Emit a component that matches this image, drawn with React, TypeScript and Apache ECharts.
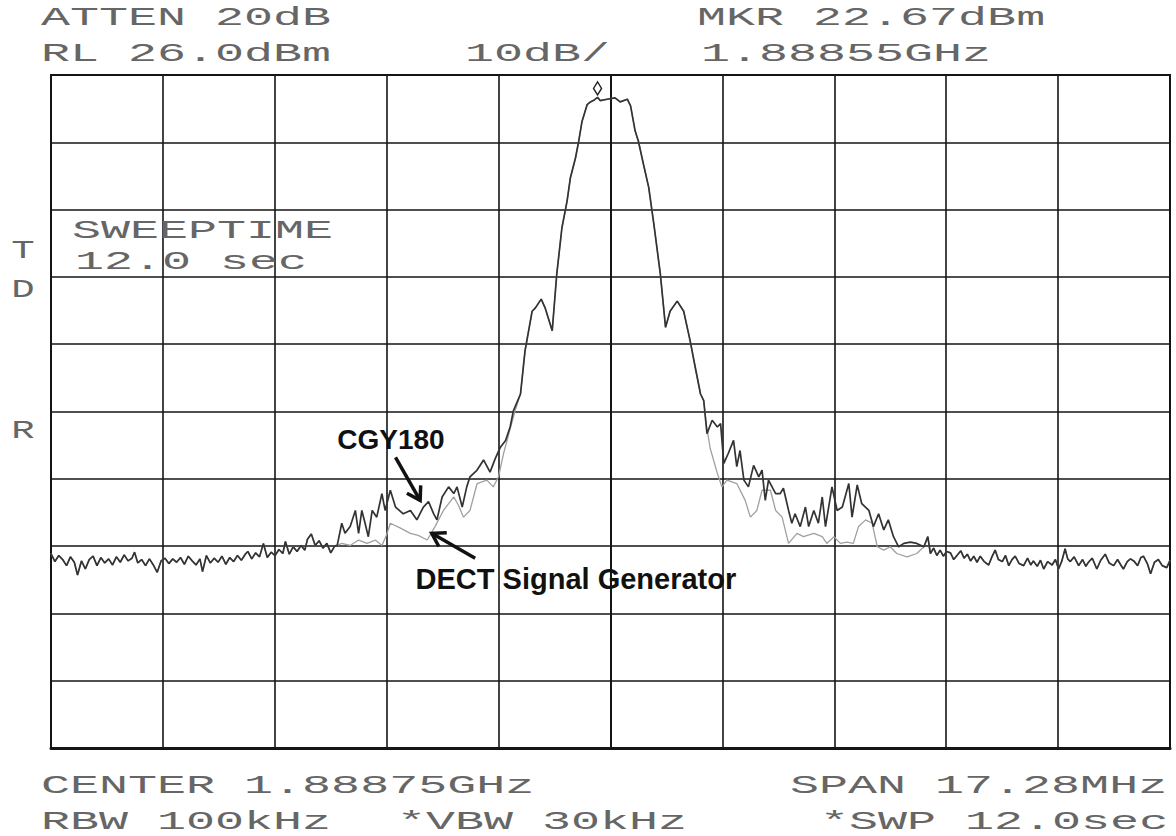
import React, { useEffect, useRef } from "react";
import * as echarts from "echarts";

// ---- Instrument settings (from the screen annotations) ----
const REF_LEVEL_DBM = 26; // RL 26.0 dBm, top of the screen
const X_MIN = -8.64; // MHz offset from center (span 17.28 MHz)
const X_MAX = 8.64;
const X_DIV = 1.728; // MHz per division
const Y_MIN_REL = -100; // 10 divisions x 10 dB below RL
const Y_DIV = 10;

// ---- Trace readings: [frequency offset from 1.88875 GHz in MHz, level in dBm] ----
// Shared noise floor on the left (both traces overlap)
const leftFloor: [number, number][] = [
  [-8.64, -45.1], [-8.58, -46.3], [-8.52, -45.4], [-8.46, -46.0], [-8.4, -46.9],
  [-8.34, -45.6], [-8.28, -46.4], [-8.23, -48.3], [-8.17, -46.2], [-8.11, -47.4],
  [-8.05, -46.0], [-7.99, -45.5], [-7.93, -46.9], [-7.87, -45.7], [-7.81, -46.5],
  [-7.75, -45.9], [-7.69, -46.8], [-7.63, -45.6], [-7.57, -46.4], [-7.51, -45.3],
  [-7.45, -46.2], [-7.39, -45.8], [-7.35, -44.9], [-7.3, -46.5], [-7.24, -46.0],
  [-7.18, -46.9], [-7.12, -45.9], [-7.06, -46.8], [-7.0, -47.9], [-6.94, -46.2],
  [-6.88, -45.8], [-6.82, -46.6], [-6.76, -45.9], [-6.7, -46.4], [-6.64, -45.7],
  [-6.58, -46.7], [-6.52, -45.5], [-6.46, -46.2], [-6.4, -46.8], [-6.34, -45.9],
  [-6.3, -47.8], [-6.24, -45.4], [-6.18, -46.5], [-6.12, -45.8], [-6.06, -46.4],
  [-6.0, -45.5], [-5.94, -46.7], [-5.88, -45.7], [-5.82, -46.3], [-5.76, -45.4],
  [-5.7, -46.1], [-5.64, -45.2], [-5.6, -44.8], [-5.54, -45.9], [-5.48, -45.0],
  [-5.42, -45.6], [-5.36, -43.6], [-5.3, -45.7], [-5.24, -44.9], [-5.18, -45.4],
  [-5.12, -44.5], [-5.06, -45.1], [-5.02, -43.3], [-4.96, -45.2], [-4.9, -44.1],
  [-4.84, -44.8], [-4.78, -43.9], [-4.72, -44.6], [-4.68, -43.0], [-4.62, -42.2],
  [-4.56, -43.9], [-4.5, -43.2], [-4.44, -44.3], [-4.38, -43.6], [-4.32, -45.0],
  [-4.26, -44.0], [-4.22, -43.9],
];

// CGY180 (dark trace) lower-left skirt
const cgyLeftSkirt: [number, number][] = [
  [-4.15, -40.6], [-4.1, -42.1], [-4.02, -41.1], [-3.94, -38.7], [-3.89, -42.1],
  [-3.84, -38.7], [-3.79, -40.6], [-3.74, -42.6], [-3.68, -38.7], [-3.61, -39.7],
  [-3.53, -36.2], [-3.48, -38.7], [-3.4, -35.7], [-3.32, -38.2], [-3.2, -39.2],
  [-3.09, -38.7], [-2.99, -40.1], [-2.89, -38.2], [-2.81, -37.4], [-2.73, -39.2],
  [-2.68, -40.1], [-2.6, -36.7], [-2.5, -35.2], [-2.42, -36.2], [-2.37, -35.2],
  [-2.29, -38.2], [-2.22, -35.2], [-2.17, -33.7], [-2.06, -32.7], [-1.96, -31.2],
  [-1.86, -33.0], [-1.78, -31.0], [-1.7, -29.3], [-1.62, -28.3], [-1.55, -26.3],
  [-1.5, -23.9],
];

// DECT signal generator (light trace) lower-left skirt
const dectLeftSkirt: [number, number][] = [
  [-4.15, -43.6], [-4.02, -43.9], [-3.89, -43.1], [-3.76, -43.6], [-3.63, -43.1],
  [-3.53, -43.9], [-3.46, -42.4], [-3.4, -40.6], [-3.25, -41.3], [-3.09, -42.1],
  [-2.97, -42.4], [-2.83, -43.1], [-2.71, -41.1], [-2.58, -38.7], [-2.42, -36.7],
  [-2.35, -37.9], [-2.27, -39.7], [-2.17, -38.7], [-2.06, -34.7], [-1.91, -34.2],
  [-1.81, -35.2], [-1.73, -33.7], [-1.65, -30.2], [-1.57, -27.3], [-1.47, -23.8],
];

// Main lobe (both traces overlap)
const mainLobe: [number, number][] = [
  [-1.39, -21.4], [-1.32, -15.0], [-1.21, -9.1], [-1.16, -8.6], [-1.07, -7.3],
  [-1.01, -8.6], [-0.9, -12.0], [-0.83, -3.6], [-0.75, 3.3], [-0.67, 7.3],
  [-0.62, 10.7], [-0.54, 13.7], [-0.49, 16.2], [-0.44, 19.1], [-0.36, 21.6],
  [-0.31, 22.0], [-0.25, 22.3], [-0.2, 22.67], [-0.16, 22.2], [-0.05, 22.4],
  [0.07, 22.6], [0.15, 22.0], [0.26, 22.4], [0.31, 21.4], [0.38, 17.7],
  [0.43, 16.2], [0.51, 12.7], [0.59, 9.3], [0.67, 3.8], [0.77, -3.6],
  [0.85, -11.5], [0.92, -9.1], [1.03, -7.6], [1.13, -9.1], [1.23, -13.5],
  [1.31, -17.5], [1.39, -21.4], [1.44, -22.4],
];

// CGY180 lower-right skirt
const cgyRightSkirt: [number, number][] = [
  [1.49, -27.3], [1.57, -25.3], [1.65, -26.3], [1.7, -25.8], [1.75, -31.7],
  [1.82, -30.2], [1.9, -28.3], [1.95, -32.2], [2.0, -29.8], [2.06, -34.2],
  [2.13, -35.2], [2.21, -32.0], [2.29, -33.7], [2.34, -32.7], [2.39, -37.2],
  [2.44, -34.2], [2.55, -36.2], [2.62, -36.2], [2.67, -35.4], [2.75, -38.7],
  [2.8, -40.6], [2.85, -39.2], [2.93, -41.1], [3.01, -38.2], [3.06, -41.1],
  [3.14, -38.7], [3.21, -40.6], [3.27, -36.7], [3.32, -41.1], [3.42, -35.2],
  [3.5, -38.7], [3.58, -38.2], [3.68, -34.7], [3.73, -39.7], [3.81, -34.9],
  [3.88, -37.7], [3.99, -38.7], [4.06, -41.1], [4.14, -39.2], [4.22, -41.6],
  [4.29, -40.1], [4.37, -42.6], [4.45, -44.1], [4.53, -43.6], [4.63, -43.4],
  [4.73, -43.6],
];

// DECT signal generator lower-right skirt
const dectRightSkirt: [number, number][] = [
  [1.48, -26.0], [1.54, -29.5], [1.65, -33.2], [1.72, -35.2], [1.8, -34.2],
  [1.95, -34.7], [2.08, -37.2], [2.16, -39.7], [2.26, -38.7], [2.34, -35.7],
  [2.47, -35.7], [2.55, -38.7], [2.65, -39.7], [2.75, -43.6], [2.88, -42.1],
  [2.98, -42.6], [3.14, -42.1], [3.27, -42.6], [3.34, -43.6], [3.45, -42.6],
  [3.55, -43.6], [3.65, -43.4], [3.75, -43.6], [3.83, -41.1], [3.94, -40.1],
  [4.04, -40.6], [4.12, -44.1], [4.22, -44.6], [4.32, -44.1], [4.42, -45.1],
  [4.58, -45.6], [4.73, -45.1],
];

// Shared noise floor on the right
const rightFloor: [number, number][] = [
  [4.84, -44.1], [4.9, -42.6], [4.94, -45.1], [4.99, -44.3], [5.04, -45.4],
  [5.09, -44.6], [5.14, -45.5], [5.19, -44.8], [5.25, -45.0], [5.3, -46.0],
  [5.35, -45.4], [5.41, -44.7], [5.46, -45.8], [5.51, -45.2], [5.56, -46.2],
  [5.61, -45.5], [5.66, -46.4], [5.71, -45.5], [5.77, -46.3], [5.84, -46.8],
  [5.89, -45.6], [5.94, -44.6], [5.99, -46.0], [6.05, -46.3], [6.1, -45.4],
  [6.15, -46.9], [6.2, -46.0], [6.25, -45.5], [6.31, -46.6], [6.38, -46.9],
  [6.44, -45.8], [6.49, -46.8], [6.53, -46.2], [6.59, -47.0], [6.64, -46.1],
  [6.69, -47.4], [6.75, -46.3], [6.82, -46.8], [6.87, -46.0], [6.92, -47.4],
  [6.97, -46.2], [7.02, -44.4], [7.06, -45.9], [7.1, -46.3], [7.16, -45.6],
  [7.23, -46.9], [7.29, -46.0], [7.34, -47.0], [7.38, -46.4], [7.44, -45.8],
  [7.51, -47.4], [7.57, -46.1], [7.64, -45.2], [7.7, -46.5], [7.77, -46.9],
  [7.83, -46.0], [7.88, -46.8], [7.92, -47.4], [7.98, -46.3], [8.03, -45.9],
  [8.08, -46.2], [8.14, -46.9], [8.19, -45.7], [8.23, -45.5], [8.29, -46.6],
  [8.34, -48.1], [8.4, -46.4], [8.46, -46.0], [8.52, -46.9], [8.59, -47.2],
  [8.64, -46.1],
];

// Marker (MKR 22.67 dBm at 1.88855 GHz)
const MARKER_FREQ = -0.2;
const MARKER_LEVEL = 22.67;

// ---- Screen texts ----
const screenTexts = [
  "ATTEN 20dB",
  "MKR 22.67dBm",
  "RL 26.0dBm",
  "10dB/",
  "1.88855GHz",
  "SWEEPTIME",
  "12.0 sec",
  "CENTER 1.88875GHz",
  "SPAN 17.28MHz",
  "RBW 100kHz",
  "*VBW 30kHz",
  "*SWP 12.0sec",
];
const screenTextPos: [number, number][] = [
  [41, 18], [697, 18], [41, 54], [465, 54], [701, 54],
  [72, 231], [75, 262], [41, 786], [790, 786], [41, 822], [397, 822], [820, 822],
];
const sideLetters = ["T", "D", "R"];
const sideLetterPos: [number, number][] = [[23, 251], [23, 290], [23, 431]];

// Annotations (anchored in data coordinates: MHz offset, dBm)
const annotationLabels = ["CGY180", "DECT Signal Generator"];
const annotationTextAt: [number, number][] = [[-4.22, -28.1], [-3.01, -48.9]];
const annotationArrowTail: [number, number][] = [[-3.32, -30.8], [-2.09, -45.8]];
const annotationArrowTip: [number, number][] = [[-2.94, -37.2], [-2.76, -42.1]];

const toRel = (pts: [number, number][]) =>
  pts.map(([f, l]) => [f, +(l - REF_LEVEL_DBM).toFixed(2)]);

export default function App() {
  const ref = useRef<HTMLDivElement>(null);

  useEffect(() => {
    if (!ref.current) return;
    const chart = echarts.init(ref.current, undefined, { renderer: "svg" });

    const cgy = toRel([...leftFloor, ...cgyLeftSkirt, ...mainLobe, ...cgyRightSkirt, ...rightFloor]);
    const dect = toRel([...leftFloor, ...dectLeftSkirt, ...mainLobe, ...dectRightSkirt, ...rightFloor]);

    const gridLine = { color: "#151515", width: 1.6 };

    chart.setOption({
      animation: false,
      backgroundColor: "#ffffff",
      grid: {
        left: 51,
        right: 6,
        top: 75,
        bottom: 88,
        show: true,
        borderColor: "#151515",
        borderWidth: 2,
      },
      xAxis: {
        type: "value",
        min: X_MIN,
        max: X_MAX,
        interval: X_DIV,
        axisLabel: { show: false },
        axisTick: { show: false },
        axisLine: { show: true, onZero: false, lineStyle: { color: "#151515", width: 3 } },
        splitLine: { show: true, lineStyle: gridLine },
      },
      yAxis: {
        type: "value",
        min: Y_MIN_REL,
        max: 0,
        interval: Y_DIV,
        axisLabel: { show: false },
        axisTick: { show: false },
        axisLine: { show: true, lineStyle: { color: "#151515", width: 2 } },
        splitLine: { show: true, lineStyle: gridLine },
      },
      series: [
        {
          name: "DECT Signal Generator",
          type: "line",
          data: dect,
          showSymbol: false,
          symbol: "none",
          lineStyle: { color: "#a0a0a0", width: 1.3 },
          z: 2,
        },
        {
          name: "CGY180",
          type: "line",
          data: cgy,
          showSymbol: false,
          symbol: "none",
          lineStyle: { color: "#333333", width: 1.7 },
          z: 3,
          markPoint: {
            symbol: "diamond",
            symbolSize: [8, 13],
            symbolOffset: [0, -9],
            label: { show: false },
            itemStyle: { color: "#ffffff", borderColor: "#222", borderWidth: 1.5 },
            data: [{ coord: [MARKER_FREQ, MARKER_LEVEL - REF_LEVEL_DBM] }],
          },
        },
      ],
    });

    const toPx = (p: [number, number]) =>
      chart.convertToPixel({ gridIndex: 0 }, [p[0], p[1] - REF_LEVEL_DBM]) as number[];

    const graphics: any[] = [];
    screenTexts.forEach((t, i) => {
      graphics.push({
        type: "text",
        x: screenTextPos[i][0],
        y: screenTextPos[i][1],
        scaleX: 1.86,
        silent: true,
        style: {
          text: t,
          fontFamily: "Liberation Mono, DejaVu Sans Mono, monospace",
          fontSize: 26,
          fill: "#666666",
          textAlign: "left",
          align: "left",
          textVerticalAlign: "middle",
          verticalAlign: "middle",
        },
      });
    });
    sideLetters.forEach((t, i) => {
      graphics.push({
        type: "text",
        x: sideLetterPos[i][0],
        y: sideLetterPos[i][1],
        scaleX: 1.5,
        silent: true,
        style: {
          text: t,
          fontFamily: "Liberation Mono, DejaVu Sans Mono, monospace",
          fontSize: 26,
          fill: "#666666",
          textAlign: "center",
          align: "center",
          textVerticalAlign: "middle",
          verticalAlign: "middle",
        },
      });
    });

    annotationLabels.forEach((label, i) => {
      const tp = toPx(annotationTextAt[i]);
      graphics.push({
        type: "text",
        x: tp[0],
        y: tp[1],
        silent: true,
        z: 100,
        style: {
          text: label,
          fontFamily: "Liberation Sans, Arial, sans-serif",
          fontSize: i === 0 ? 28 : 29,
          fontWeight: "bold",
          fill: "#111",
          textAlign: "left",
          align: "left",
          textVerticalAlign: "middle",
          verticalAlign: "middle",
        },
      });
      const tail = toPx(annotationArrowTail[i]);
      const tip = toPx(annotationArrowTip[i]);
      const dx = tail[0] - tip[0];
      const dy = tail[1] - tip[1];
      const len = Math.hypot(dx, dy) || 1;
      const ux = dx / len;
      const uy = dy / len;
      const headLen = 15;
      const ang = (32 * Math.PI) / 180;
      const rot = (a: number) => [
        tip[0] + headLen * (ux * Math.cos(a) - uy * Math.sin(a)),
        tip[1] + headLen * (ux * Math.sin(a) + uy * Math.cos(a)),
      ];
      graphics.push({
        type: "polyline",
        silent: true,
        z: 100,
        shape: { points: [tail, tip] },
        style: { stroke: "#111", lineWidth: 3.5, fill: null },
      });
      graphics.push({
        type: "polyline",
        silent: true,
        z: 100,
        shape: { points: [rot(ang), tip, rot(-ang)] },
        style: { stroke: "#111", lineWidth: 3.5, fill: null, lineJoin: "miter" },
      });
    });

    chart.setOption({ graphic: graphics });

    return () => chart.dispose();
  }, []);

  return (
    <div
      ref={ref}
      style={{ position: "absolute", left: 0, top: 0, width: 1176, height: 836, background: "#fff" }}
    />
  );
}
